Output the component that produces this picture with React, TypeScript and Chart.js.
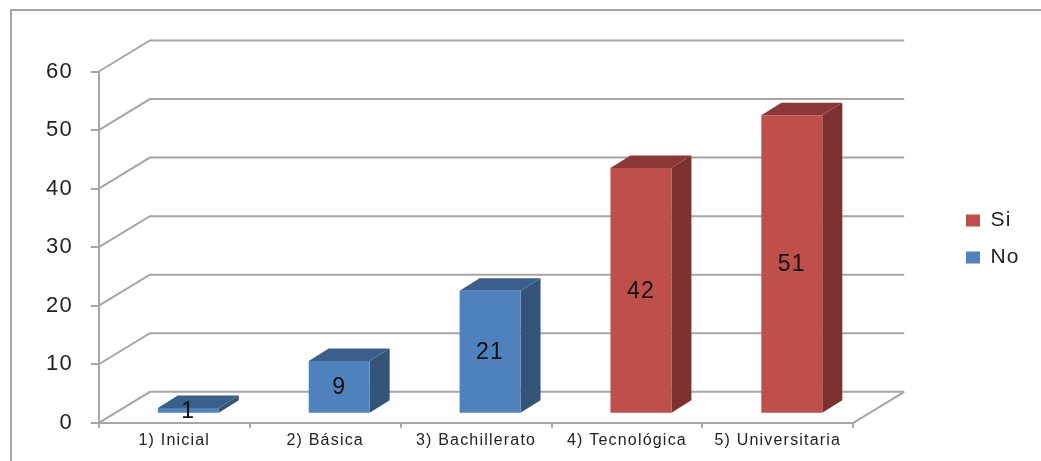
import React, { useEffect, useRef } from "react";
import { Chart, registerables } from "chart.js";

Chart.register(...registerables);

const categories = ["1) Inicial", "2) Básica", "3) Bachillerato", "4) Tecnológica", "5) Universitaria"];
const siValues = [null, null, null, 42, 51];
const noValues = [1, 9, 21, null, null];
const yTicksMax = 60;
const yTickStep = 10;

const GRID = "#a6a6a6";
const TEXT = "#222222";
const FONT = "'Liberation Sans', Arial, sans-serif";

const wallDx = 51;
const wallDy = -31;
const barShiftX = 14;
const barShiftY = -9;
const barDx = 20;
const barDy = -12.5;

const palette: Record<string, { front: string; top: string; side: string }> = {
  Si: { front: "#be4f4b", top: "#8c3836", side: "#7d312f" },
  No: { front: "#4f81bd", top: "#3a5f8b", side: "#335378" },
};

const depthPlugin = {
  id: "depth",
  beforeLayout(chart: any) {
    chart.ctx.letterSpacing = "1.2px";
  },
  afterLayout(chart: any) {
    const lg = chart.legend;
    const w = lg.right - lg.left;
    const h = lg.bottom - lg.top;
    lg.left = 950;
    lg.right = 950 + w;
    lg.top = 239 - h / 2;
    lg.bottom = 239 + h / 2;
  },
  beforeDraw(chart: any) {
    chart.ctx.letterSpacing = "1.2px";
  },
  beforeDatasetsDraw(chart: any) {
    const { ctx, chartArea: a, scales } = chart;
    const y = scales.y;
    ctx.save();
    ctx.strokeStyle = GRID;
    ctx.lineWidth = 2;
    for (const t of y.ticks) {
      const py = y.getPixelForValue(t.value);
      ctx.beginPath();
      ctx.moveTo(a.left, py);
      ctx.lineTo(a.left + wallDx, py + wallDy);
      ctx.lineTo(a.right + wallDx, py + wallDy);
      ctx.stroke();
    }
    const p0 = y.getPixelForValue(0);
    ctx.beginPath();
    ctx.moveTo(a.right, p0);
    ctx.lineTo(a.right + wallDx, p0 + wallDy);
    ctx.stroke();
    // bar side and top faces
    chart.data.datasets.forEach((ds: any, i: number) => {
      const c = palette[ds.label];
      chart.getDatasetMeta(i).data.forEach((bar: any, j: number) => {
        if (ds.data[j] == null) return;
        const p = bar.getProps(["x", "y", "base", "width"], true);
        const l = p.x - p.width / 2 + barShiftX;
        const r = p.x + p.width / 2 + barShiftX;
        const t = p.y + barShiftY;
        const b = p.base + barShiftY;
        ctx.fillStyle = c.side;
        ctx.beginPath();
        ctx.moveTo(r, t);
        ctx.lineTo(r + barDx, t + barDy);
        ctx.lineTo(r + barDx, b + barDy);
        ctx.lineTo(r, b);
        ctx.closePath();
        ctx.fill();
        ctx.fillStyle = c.top;
        ctx.beginPath();
        ctx.moveTo(l, t);
        ctx.lineTo(l + barDx, t + barDy);
        ctx.lineTo(r + barDx, t + barDy);
        ctx.lineTo(r, t);
        ctx.closePath();
        ctx.fill();
      });
    });
    ctx.restore();
    ctx.save();
    ctx.translate(barShiftX, barShiftY);
  },
  afterDatasetsDraw(chart: any) {
    const { ctx } = chart;
    ctx.restore();
    ctx.save();
    ctx.fillStyle = "#111111";
    ctx.font = `23px ${FONT}`;
    ctx.textAlign = "center";
    ctx.textBaseline = "middle";
    chart.data.datasets.forEach((ds: any, i: number) => {
      chart.getDatasetMeta(i).data.forEach((bar: any, j: number) => {
        if (ds.data[j] == null) return;
        const p = bar.getProps(["x", "y", "base"], true);
        ctx.fillText(String(ds.data[j]), p.x + barShiftX, (p.y + p.base) / 2 + barShiftY + 1);
      });
    });
    ctx.restore();
  },
  afterDraw(chart: any) {
    const { ctx } = chart;
    ctx.save();
    ctx.strokeStyle = GRID;
    ctx.lineWidth = 2;
    ctx.beginPath();
    ctx.moveTo(11, 461);
    ctx.lineTo(11, 10);
    ctx.lineTo(1041, 10);
    ctx.stroke();
    ctx.restore();
  },
};

export default function App() {
  const ref = useRef<HTMLCanvasElement>(null);
  useEffect(() => {
    document.body.style.margin = "0";
    const chart = new Chart(ref.current!, {
      type: "bar",
      data: {
        labels: categories,
        datasets: [
          { label: "Si", data: siValues, backgroundColor: palette.Si.front },
          { label: "No", data: noValues, backgroundColor: palette.No.front },
        ],
      },
      plugins: [depthPlugin],
      options: {
        responsive: false,
        animation: false,
        layout: { padding: { left: 28, right: 108, top: 71.5, bottom: 8 } },
        datasets: { bar: { categoryPercentage: 1, barPercentage: 0.404 } },
        scales: {
          x: {
            stacked: true,
            grid: { drawOnChartArea: false, color: GRID, lineWidth: 2, tickLength: 5 },
            border: { color: GRID, width: 2 },
            ticks: { color: TEXT, font: { family: FONT, size: 16 }, padding: 3, maxRotation: 0, autoSkip: false },
          },
          y: {
            stacked: true,
            min: 0,
            max: yTicksMax,
            grid: { drawOnChartArea: false, color: GRID, lineWidth: 2, tickLength: 8 },
            border: { color: GRID, width: 2 },
            ticks: { stepSize: yTickStep, color: TEXT, font: { family: FONT, size: 22 }, padding: 18 },
          },
        },
        plugins: {
          tooltip: { enabled: false },
          title: { display: false },
          legend: {
            position: "right",
            labels: {
              color: TEXT,
              font: { family: FONT, size: 21 },
              boxWidth: 14,
              boxHeight: 12,
              padding: 16,
            },
          },
        },
      },
    } as any);
    return () => chart.destroy();
  }, []);
  return <canvas ref={ref} width={1041} height={461} style={{ display: "block" }} />;
}
